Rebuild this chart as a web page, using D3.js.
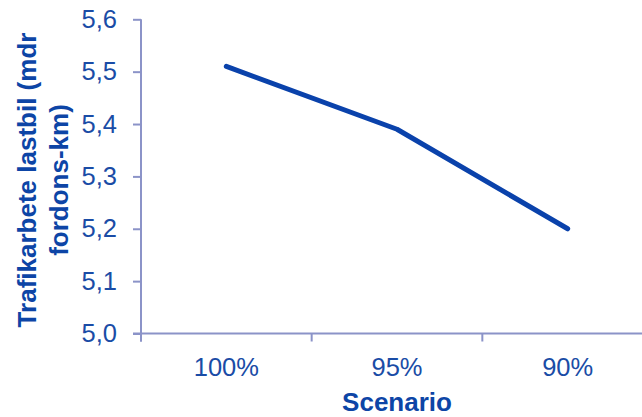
<!DOCTYPE html>
<html>
<head>
<meta charset="utf-8">
<script src="https://cdn.jsdelivr.net/npm/d3@7"></script>
<style>
  html, body { margin: 0; padding: 0; background: #ffffff; }
  svg { display: block; font-family: "Liberation Sans", Arial, sans-serif; }
</style>
</head>
<body>
<svg id="chart" width="642" height="417"></svg>
<script>
// Scenario categories and freight traffic (billion vehicle-km)
const categories = ["100%", "95%", "90%"];
const values = [5.51, 5.39, 5.20];
const yTicks = [5.0, 5.1, 5.2, 5.3, 5.4, 5.5, 5.6];
const yTitleLines = ["Trafikarbete lastbil (mdr", "fordons-km)"];
const xTitle = "Scenario";

const axisColor = "#8b93c8";
const textColor = "#1a4ca6";
const titleColor = "#0d45a6";
const lineColor = "#0a42ab";

const svg = d3.select("#chart");

const x = d3.scaleBand().domain(categories).range([141, 653]).padding(0);
const y = d3.scaleLinear().domain([5.0, 5.6]).range([333.5, 19.3]);

const fmt = d => d.toFixed(1).replace(".", ",");

// y axis
const yAxis = d3.axisLeft(y)
  .tickValues(yTicks)
  .tickFormat(fmt)
  .tickSize(8)
  .tickPadding(16);
const gy = svg.append("g")
  .attr("transform", "translate(141,0)")
  .call(yAxis);
gy.select(".domain").remove();
gy.append("line")
  .attr("x1", 0).attr("x2", 0)
  .attr("y1", y(5.6)).attr("y2", y(5.0) + 8)
  .attr("stroke", axisColor).attr("stroke-width", 2);
gy.selectAll(".tick line").attr("stroke", axisColor).attr("stroke-width", 2);
gy.selectAll(".tick text")
  .attr("fill", textColor)
  .attr("font-size", 25.5)
  .attr("font-family", "Liberation Sans, Arial, sans-serif");

// x axis with ticks at category boundaries
const boundaries = categories.map(c => x(c)).concat([x.range()[1]]);
const gx = svg.append("g").attr("transform", `translate(0,${y(5.0)})`);
gx.append("line")
  .attr("x1", 133).attr("x2", 642)
  .attr("y1", 0).attr("y2", 0)
  .attr("stroke", axisColor).attr("stroke-width", 2);
gx.selectAll("line.tick")
  .data(boundaries)
  .join("line")
  .attr("class", "tick")
  .attr("x1", d => d).attr("x2", d => d)
  .attr("y1", 0).attr("y2", 8)
  .attr("stroke", axisColor).attr("stroke-width", 2);
gx.selectAll("text.cat")
  .data(categories)
  .join("text")
  .attr("class", "cat")
  .attr("x", d => x(d) + x.bandwidth() / 2)
  .attr("y", 42)
  .attr("text-anchor", "middle")
  .attr("fill", textColor)
  .attr("font-size", 25.5)
  .text(d => d);

// x axis title
svg.append("text")
  .attr("x", 397)
  .attr("y", 411)
  .attr("text-anchor", "middle")
  .attr("font-weight", "bold")
  .attr("font-size", 26)
  .attr("fill", titleColor)
  .text(xTitle);

// y axis title (two lines, rotated)
const yt = svg.append("text")
  .attr("transform", "translate(36,180) rotate(-90)")
  .attr("text-anchor", "middle")
  .attr("font-weight", "bold")
  .attr("font-size", 26)
  .attr("fill", titleColor);
yTitleLines.forEach((t, i) => {
  yt.append("tspan")
    .attr("x", 0)
    .attr("dy", i === 0 ? 0 : 32)
    .text(t);
});

// data line
const line = d3.line()
  .x((d, i) => x(categories[i]) + x.bandwidth() / 2)
  .y(d => y(d));
svg.append("path")
  .datum(values)
  .attr("d", line)
  .attr("fill", "none")
  .attr("stroke", lineColor)
  .attr("stroke-width", 5)
  .attr("stroke-linecap", "round")
  .attr("stroke-linejoin", "round");
</script>
</body>
</html>
